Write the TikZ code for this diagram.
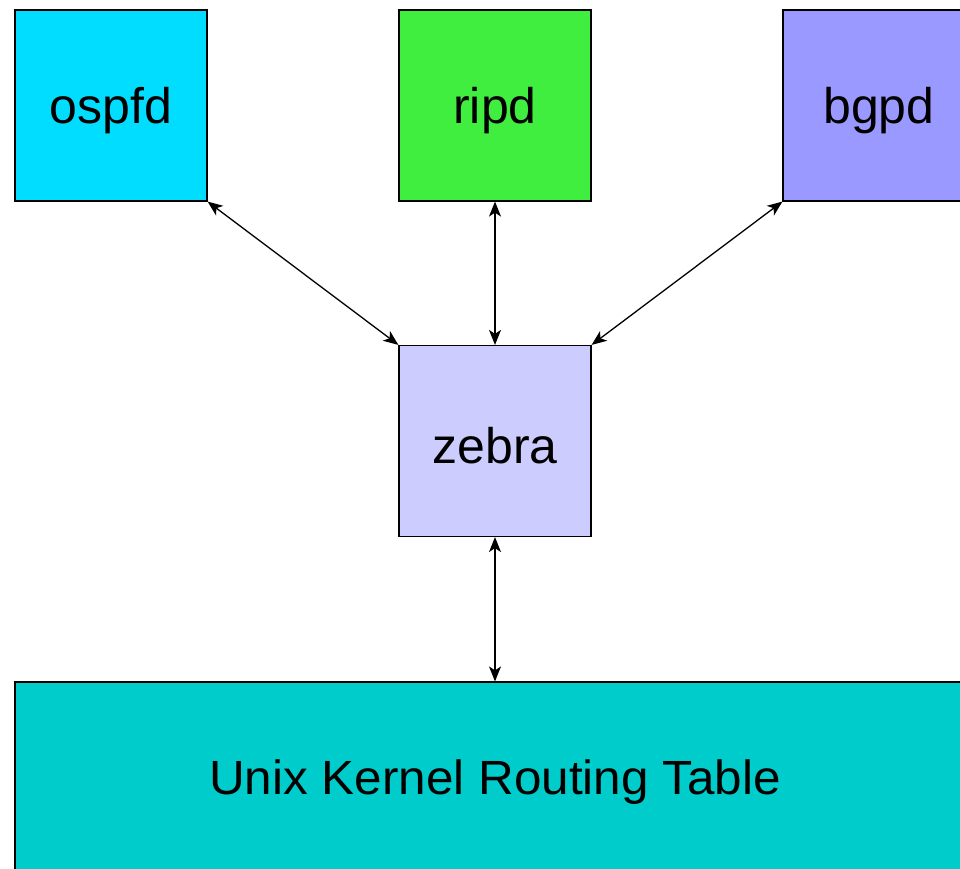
\documentclass[tikz,border=0pt]{standalone}
\usepackage{fontspec}
\setmainfont{Liberation Sans}
\usetikzlibrary{arrows.meta}
\definecolor{cospf}{HTML}{00DDFF}
\definecolor{crip}{HTML}{40EE40}
\definecolor{cbgp}{HTML}{9999FF}
\definecolor{czebra}{HTML}{CCCCFF}
\definecolor{ckern}{HTML}{00CCCC}
\begin{document}
\begin{tikzpicture}[x=1pt,y=-1pt,
  box/.style={draw=black,line width=1.2pt,minimum width=192pt,minimum height=191pt,inner sep=0pt},
  lbl/.style={inner sep=0pt,font=\fontsize{50}{58}\selectfont},
  link/.style={line width=1.3pt,{Stealth[length=15pt,width=12pt,inset=4pt]}-{Stealth[length=15pt,width=12pt,inset=4pt]}}]
\useasboundingbox (0,0) rectangle (960,869);
\fill[white] (0,0) rectangle (960,869);
\clip (0,0) rectangle (960,869);
\node[box,fill=cospf] (ospfd) at (111,105.5) {};
\node[box,fill=crip] (ripd) at (495,105.5) {};
\node[box,fill=cbgp] (bgpd) at (879,105.5) {};
\node[box,fill=czebra] (zebra) at (495,441) {};
\node[box,fill=ckern,minimum width=960pt,minimum height=196pt] (kern) at (495,780) {};
\node[lbl] (tospf) at (111,111) {ospfd};
\node[lbl] (trip) at (495,111) {ripd};
\node[lbl] (tbgp) at (879,111) {bgpd};
\node[lbl] (tzebra) at (495,446) {zebra};
\node[lbl,font=\fontsize{48}{56}\selectfont,xscale=1.03] (tkern) at (495,782) {Unix Kernel Routing Table};
\draw[link] (ospfd.south east) -- (zebra.north west);
\draw[link] (ripd.south) -- (zebra.north);
\draw[link] (bgpd.south west) -- (zebra.north east);
\draw[link] (zebra.south) -- (kern.north);
\end{tikzpicture}
\end{document}
